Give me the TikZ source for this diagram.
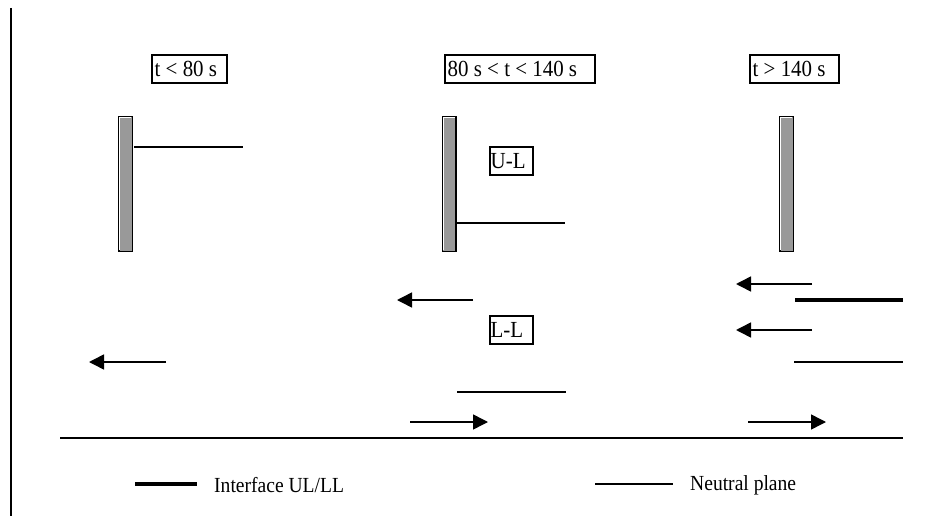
\documentclass[tikz,border=0pt]{standalone}
\usepackage{fontspec}
\setmainfont{Liberation Serif}
\newfontfamily\condfont[FakeStretch=0.91]{Liberation Serif}
\usetikzlibrary{arrows.meta}
\newcommand{\lbox}[2]{\makebox[#1][l]{#2}}
\begin{document}
\begin{tikzpicture}[x=1pt,y=-1pt,
  lbl/.style={draw, line width=1.7pt, font=\condfont\fontsize{23}{26}\selectfont,
    inner xsep=3pt, inner ysep=0pt, minimum height=28.3pt, anchor=west},
  bar/.style={draw, line width=1.5pt, fill=black!40, minimum width=13.5pt,
    minimum height=134.5pt, inner sep=0pt},
  hilite/.style={white, line width=1pt},
  npline/.style={line width=1.5pt},
  ifline/.style={line width=4pt},
  baseln/.style={line width=2pt},
  flow/.style={line width=1.5pt, -{Triangle[length=15pt,width=15pt]}},
  legtxt/.style={font=\condfont\fontsize{21.5}{24}\selectfont, inner sep=0pt, anchor=west}]
\useasboundingbox (0,0) rectangle (940,516);
\fill[white] (0,0) rectangle (940,516);

% left border
\coordinate (lb1) at (10.5,8);
\coordinate (lb2) at (10.5,516);
\draw[baseln] (lb1) -- (lb2);

% time labels
\node[lbl] (t1) at (150.85,69) {\lbox{69.3pt}{t < 80 s}};
\node[lbl] (t2) at (443.85,69) {\lbox{144.3pt}{80 s < t < 140 s}};
\node[lbl] (t3) at (748.85,69) {\lbox{83.3pt}{t > 140 s}};

% bars
\node[bar] (b1) at (125.5,184) {};
\node[bar] (b2) at (449,184) {};
\node[bar] (b3) at (786.5,184) {};
\foreach \b in {b1,b2,b3}{
  \draw[hilite] ([xshift=1.6pt,yshift=1.6pt]\b.south west) |- ([xshift=-1.6pt,yshift=-1.6pt]\b.north east);
}

% region labels
\node[lbl, inner xsep=1pt] (ul) at (488.85,161) {\lbox{41.3pt}{U-L}};
\node[lbl, inner xsep=1pt] (ll) at (488.85,330) {\lbox{41.3pt}{L-L}};

% neutral planes / interfaces
\coordinate (n1a) at (134,147); \coordinate (n1b) at (243,147);
\draw[npline] (n1a) -- (n1b);
\coordinate (n2a) at (456,223); \coordinate (n2b) at (565,223);
\draw[npline] (n2a) -- (n2b);
\coordinate (n3a) at (457,392); \coordinate (n3b) at (566,392);
\draw[npline] (n3a) -- (n3b);
\coordinate (i4a) at (795,300); \coordinate (i4b) at (903,300);
\draw[ifline] (i4a) -- (i4b);
\coordinate (n5a) at (794,362); \coordinate (n5b) at (903,362);
\draw[npline] (n5a) -- (n5b);

% base line
\coordinate (g1) at (60,437.5); \coordinate (g2) at (903,437.5);
\draw[baseln] (g1) -- (g2);

% flow arrows
\coordinate (a1s) at (166,362); \coordinate (a1e) at (89,362);
\draw[flow] (a1s) -- (a1e);
\coordinate (a2s) at (473,300); \coordinate (a2e) at (397,300);
\draw[flow] (a2s) -- (a2e);
\coordinate (a3s) at (410,422); \coordinate (a3e) at (488,422);
\draw[flow] (a3s) -- (a3e);
\coordinate (a4s) at (812,284); \coordinate (a4e) at (736,284);
\draw[flow] (a4s) -- (a4e);
\coordinate (a5s) at (812,330); \coordinate (a5e) at (736,330);
\draw[flow] (a5s) -- (a5e);
\coordinate (a6s) at (748,422); \coordinate (a6e) at (826,422);
\draw[flow] (a6s) -- (a6e);

% legend
\coordinate (l1a) at (135,484); \coordinate (l1b) at (197,484);
\draw[ifline] (l1a) -- (l1b);
\node[legtxt] (l1t) at (214,485) {Interface UL/LL};
\coordinate (l2a) at (595,484); \coordinate (l2b) at (673,484);
\draw[npline] (l2a) -- (l2b);
\node[legtxt] (l2t) at (690,485) {Neutral plane};
\end{tikzpicture}
\end{document}
